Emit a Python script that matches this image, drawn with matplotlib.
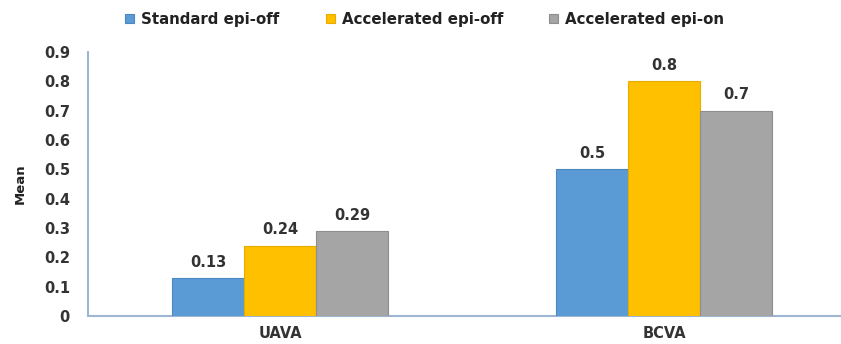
import matplotlib
matplotlib.use("Agg")
import matplotlib.pyplot as plt
import numpy as np

categories = ["UAVA", "BCVA"]
series_names = ["Standard epi-off", "Accelerated epi-off", "Accelerated epi-on"]
standard_epi_off = [0.13, 0.5]
accelerated_epi_off = [0.24, 0.8]
accelerated_epi_on = [0.29, 0.7]
y_ticks = [0, 0.1, 0.2, 0.3, 0.4, 0.5, 0.6, 0.7, 0.8, 0.9]

colors = ["#5B9BD5", "#FFC000", "#A5A5A5"]
edge_colors = ["#4A88C2", "#E6AD00", "#8E8E8E"]
spine_color = "#9FB6D2"

plt.rcParams["font.family"] = ["DejaVu Sans"]

fig = plt.figure(figsize=(8.41, 3.44), dpi=100)
# axes runs past the right edge of the figure, like the cropped category band
ax = fig.add_axes([88 / 841, (344 - 316) / 344, 768 / 841, (316 - 52) / 344])

x = np.arange(len(categories))
width = 0.1875
series = [standard_epi_off, accelerated_epi_off, accelerated_epi_on]
for i, (vals, name) in enumerate(zip(series, series_names)):
    pos = x + (i - 1) * width
    bars = ax.bar(pos, vals, width=width, color=colors[i], edgecolor=edge_colors[i],
                  linewidth=0.8, label=name, zorder=3)
    for b, v in zip(bars, vals):
        ax.text(b.get_x() + b.get_width() / 2, v + 0.028, f"{v:g}",
                ha="center", va="bottom", fontsize=10.5, fontweight="bold", color="#333333")

ax.set_xlim(-0.5, 1.5)
ax.set_ylim(0, 0.9)
ax.set_yticks(y_ticks)
ax.set_yticklabels([f"{t:g}" for t in y_ticks])
ax.set_xticks(x)
ax.set_xticklabels(categories)
ax.tick_params(axis="both", length=0, labelsize=10.5, colors="#333333")
ax.tick_params(axis="y", pad=13)
ax.tick_params(axis="x", pad=7, labelsize=10.5)
for lbl in ax.get_xticklabels() + ax.get_yticklabels():
    lbl.set_fontweight("bold")

for s in ["top", "right"]:
    ax.spines[s].set_visible(False)
for s in ["left", "bottom"]:
    ax.spines[s].set_color(spine_color)
    ax.spines[s].set_linewidth(1.5)

ax.set_ylabel("Mean", fontsize=9.5, fontweight="bold", color="#222222", labelpad=12)

fig.legend(loc="upper center", bbox_to_anchor=(0.505, 1.005), ncol=3, frameon=False,
           prop={"weight": "bold", "size": 10.8}, handlelength=0.6, handleheight=0.6,
           handletextpad=0.45, columnspacing=3.1, labelcolor="#222222")

fig.savefig("out.png", dpi=100)
